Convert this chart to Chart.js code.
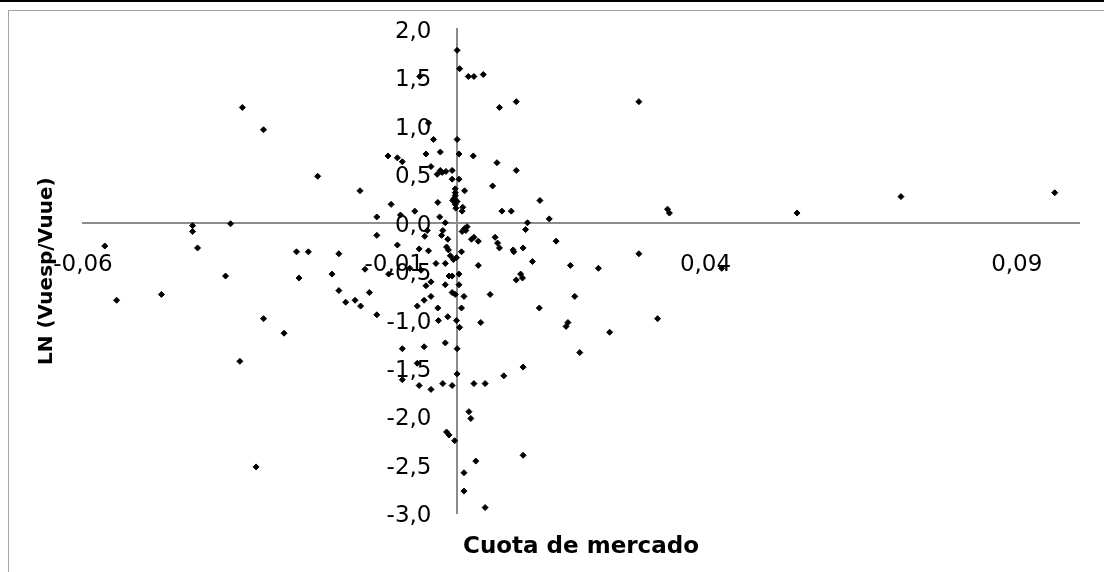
<!DOCTYPE html>
<html>
<head>
<meta charset="utf-8">
<script src="https://cdn.jsdelivr.net/npm/chart.js@4.4.1/dist/chart.umd.min.js"></script>
<style>
html,body{margin:0;padding:0;background:#fff;}
#wrap{position:relative;width:1104px;height:572px;overflow:hidden;}
#topline{position:absolute;left:0;top:0;width:1104px;height:2px;background:#000;}
#frame{position:absolute;left:8px;top:10px;width:1300px;height:800px;border-top:1px solid #a6a6a6;border-left:1px solid #a6a6a6;}
#c{position:absolute;left:0;top:0;}
</style>
</head>
<body>
<div id="wrap"><div id="topline"></div><div id="frame"></div><canvas id="c" width="1104" height="572"></canvas></div>
<script>
const xTickValues = [-0.06, -0.01, 0.04, 0.09];
const yTickValues = [-3, -2.5, -2, -1.5, -1, -0.5, 0, 0.5, 1, 1.5, 2];
const xTitle = 'Cuota de mercado';
const yTitle = 'LN (Vuesp/Vuue)';

const cuotaMercado = [
 -0.0565,-0.0546,-0.0474,-0.0424,-0.0424,-0.0416,-0.0371,-0.0363,-0.0348,-0.0344,
 -0.0322,-0.0310,-0.0310,-0.0277,-0.0257,-0.0238,-0.0253,-0.0223,-0.0200,-0.0189,
 -0.0189,-0.0178,-0.0163,-0.0154,-0.0155,-0.0147,-0.0140,-0.0128,-0.0128,-0.0128,
 -0.0110,-0.0095,-0.0087,-0.0109,-0.0105,-0.0095,-0.0090,-0.0087,-0.0087,-0.0075,
 -0.0067,-0.0063,-0.0063,-0.0060,-0.0060,-0.0059,-0.0057,-0.0052,-0.0052,-0.0049,
 -0.0049,-0.0047,-0.0051,-0.0045,-0.0045,-0.0041,-0.0041,-0.0041,-0.0041,-0.0037,
 -0.0033,-0.0031,-0.0030,-0.0030,-0.0029,-0.0027,-0.0026,-0.0026,-0.0023,-0.0017,
 -0.0022,-0.0024,-0.0022,-0.0018,-0.0018,-0.0018,-0.0018,-0.0016,-0.0016,-0.0014,
 -0.0014,-0.0013,-0.0012,-0.0012,-0.0010,-0.0007,-0.0007,-0.0007,-0.0007,-0.0007,
 -0.0005,-0.0003,-0.0002,0.0000,0.0000,0.0001,0.0001,0.0001,0.0001,-0.0002,
 -0.0002,-0.0002,-0.0004,-0.0006,0.0001,-0.0002,-0.0001,0.0004,0.0004,0.0004,
 0.0004,0.0005,0.0005,0.0008,0.0008,0.0009,0.0010,0.0013,0.0012,0.0012,
 0.0012,0.0009,0.0013,0.0017,0.0015,0.0019,0.0028,0.0020,0.0023,0.0024,
 0.0028,0.0027,0.0028,0.0031,0.0035,0.0035,0.0039,0.0043,0.0046,0.0046,
 0.0054,0.0058,0.0062,0.0065,0.0066,0.0069,0.0069,0.0073,0.0076,0.0088,
 0.0091,0.0092,0.0096,0.0096,0.0096,0.0103,0.0106,0.0107,0.0107,0.0107,
 0.0111,0.0114,0.0122,0.0133,0.0134,0.0149,0.0160,0.0176,0.0179,0.0183,
 0.0190,0.0198,0.0228,0.0246,0.0293,0.0293,0.0323,0.0339,0.0342,0.0426,
 0.0547,0.0714,0.0961
];
const lnVuespVuue = [
 -0.24,-0.80,-0.74,-0.03,-0.09,-0.26,-0.55,-0.01,-1.43,1.19,
 -2.52,0.96,-0.99,-1.14,-0.30,-0.30,-0.57,0.48,-0.53,-0.32,
 -0.70,-0.82,-0.80,-0.86,0.33,-0.48,-0.72,0.06,-0.13,-0.95,
 0.69,0.67,0.63,-0.53,0.19,-0.23,0.08,-1.30,-1.62,-0.47,
 0.12,-0.86,-1.45,-0.27,-1.68,1.51,-0.49,-0.80,-1.28,-0.65,
 0.71,-0.08,-0.14,1.03,-0.29,-0.61,0.58,-0.76,-1.72,0.86,
 -0.42,0.50,0.21,-0.88,-1.01,0.06,0.73,0.54,0.52,0.53,
 -0.08,-0.13,-1.66,0.00,-1.24,-0.42,-0.64,-0.25,-2.16,-0.17,
 -0.97,-0.28,-2.19,-0.55,-0.34,-0.55,0.54,0.45,-0.72,-1.68,
 -0.38,-2.25,-0.74,-0.36,-1.01,1.78,0.86,-1.30,-1.56,0.35,
 0.31,0.28,0.25,0.23,0.22,0.19,0.15,0.71,0.45,-0.53,
 -0.64,1.59,-1.08,-0.30,-0.88,0.12,0.16,0.33,-0.76,-2.58,
 -2.77,-0.09,-0.06,-0.04,-0.08,1.51,1.51,-1.95,-2.02,-0.17,
 -0.15,0.69,-1.66,-2.46,-0.19,-0.44,-1.03,1.53,-1.66,-2.94,
 -0.74,0.38,-0.15,0.62,-0.21,-0.26,1.19,0.12,-1.58,0.12,
 -0.28,-0.30,0.54,-0.59,1.25,-0.53,-0.57,-0.26,-1.49,-2.40,
 -0.07,0.00,-0.40,-0.88,0.23,0.04,-0.19,-1.07,-1.03,-0.44,
 -0.76,-1.34,-0.47,-1.13,1.25,-0.32,-0.99,0.14,0.10,-0.47,
 0.10,0.27,0.31
];

const points = cuotaMercado.map((x, i) => ({x: x, y: lnVuespVuue[i]}));
const FONT = "'DejaVu Sans', sans-serif";
const AXIS_COLOR = '#8c8c8c';

// place the vertical axis (and its labels) at x = 0
const yAtZero = {
  id: 'yAtZero',
  afterLayout(chart) {
    const y = chart.scales.y;
    const x0 = chart.scales.x.getPixelForValue(0);
    y.left = 0; y.right = x0; y.width = x0;
  }
};

new Chart(document.getElementById('c'), {
  type: 'scatter',
  data: {
    datasets: [{
      data: points,
      pointStyle: 'rectRot',
      pointRadius: 3,
      pointBorderWidth: 1,
      backgroundColor: '#000',
      borderColor: '#000'
    }]
  },
  options: {
    responsive: false,
    animation: false,
    events: [],
    layout: {padding: {left: 35, right: 25, top: 29, bottom: 11}},
    plugins: {
      legend: {display: false},
      tooltip: {enabled: false},
      title: {
        display: true, text: yTitle, position: 'left', fullSize: false,
        color: '#000', font: {family: FONT, size: 20, weight: 'bold'},
        padding: {top: 0, bottom: 24}
      },
      subtitle: {
        display: true, text: xTitle, position: 'bottom', fullSize: false,
        color: '#000', font: {family: FONT, size: 23, weight: 'bold'},
        padding: {top: 20, bottom: 0}
      }
    },
    scales: {
      x: {
        type: 'linear',
        position: {y: 0},
        min: -0.06, max: 0.10,
        afterBuildTicks: s => { s.ticks = xTickValues.map(v => ({value: v})); },
        afterFit: s => { s.height = 0; s.paddingLeft = 0; s.paddingRight = 0; },
        grid: {display: false, drawTicks: false},
        border: {display: true, color: AXIS_COLOR, width: 2},
        ticks: {
          autoSkip: false, maxRotation: 0, padding: 28,
          color: '#000', font: {family: FONT, size: 23},
          callback: v => v.toFixed(2).replace('.', ',')
        }
      },
      y: {
        type: 'linear',
        position: 'left',
        min: -3, max: 2,
        afterBuildTicks: s => { s.ticks = yTickValues.map(v => ({value: v})); },
        afterFit: s => { s.width = 0; s.paddingTop = 0; s.paddingBottom = 0; },
        grid: {display: false, drawTicks: false},
        border: {display: true, color: AXIS_COLOR, width: 2},
        ticks: {
          autoSkip: false, padding: 25, labelOffset: 3,
          color: '#000', font: {family: FONT, size: 23},
          callback: v => v.toFixed(1).replace('.', ',')
        }
      }
    }
  },
  plugins: [yAtZero]
});
</script>
</body>
</html>
